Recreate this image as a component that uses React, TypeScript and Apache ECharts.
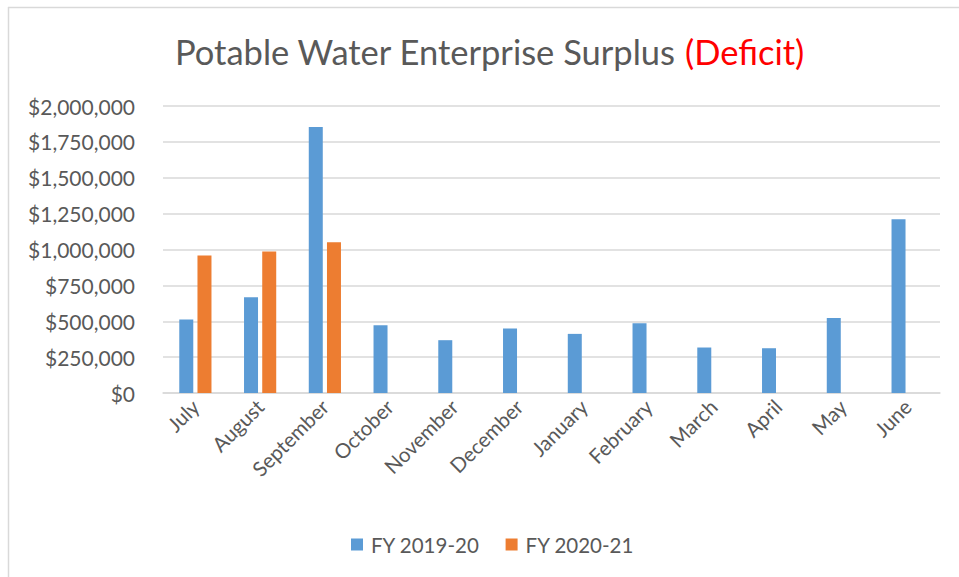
import React, { useEffect, useRef } from "react";
import * as echarts from "echarts";

const months = [
  "July", "August", "September", "October", "November", "December",
  "January", "February", "March", "April", "May", "June",
];
const fy1920 = [512000, 668000, 1853000, 472000, 368000, 449000, 412000, 486000, 317000, 312000, 523000, 1210000];
const fy2021: (number | string)[] = [958000, 986000, 1051000, "-", "-", "-", "-", "-", "-", "-", "-", "-"];
const seriesNames = ["FY 2019-20", "FY 2020-21"];
const yTicks = { min: 0, max: 2000000, interval: 250000 };

const FONT = "Lato, 'Open Sans', sans-serif";
const TEXT = "#595959";

export default function App() {
  const ref = useRef<HTMLDivElement>(null);

  useEffect(() => {
    if (!ref.current) return;
    const chart = echarts.init(ref.current, undefined, { renderer: "svg" });
    chart.setOption({
      animation: false,
      backgroundColor: "#ffffff",
      textStyle: { fontFamily: FONT },
      title: {
        text: "{a|Potable Water Enterprise Surplus }{b|(Deficit)}",
        left: 170,
        top: 29,
        textStyle: {
          fontWeight: "normal",
          rich: {
            a: { fontFamily: FONT, fontSize: 34.5, fontWeight: "normal", color: TEXT },
            b: { fontFamily: FONT, fontSize: 34.5, fontWeight: "normal", color: "#ff0000" },
          },
        },
      },
      legend: {
        top: 529,
        left: 346,
        icon: "rect",
        itemWidth: 12,
        itemHeight: 12,
        itemGap: 26,
        textStyle: { fontFamily: FONT, fontSize: 20.5, color: TEXT, padding: [0, 0, 0, 3] },
        data: seriesNames,
      },
      grid: { left: 163, right: 19, top: 106, bottom: 184 },
      xAxis: {
        type: "category",
        data: months,
        axisLine: { show: true, lineStyle: { color: "#d9d9d9", width: 1.5 } },
        axisTick: { show: false },
        axisLabel: {
          rotate: 45,
          interval: 0,
          margin: 10,
          fontFamily: FONT,
          fontSize: 20.5,
          color: TEXT,
        },
      },
      yAxis: {
        type: "value",
        min: yTicks.min,
        max: yTicks.max,
        interval: yTicks.interval,
        axisLine: { show: false },
        axisTick: { show: false },
        splitLine: { lineStyle: { color: "#d9d9d9", width: 1.5 } },
        axisLabel: {
          margin: 28,
          fontFamily: FONT,
          fontSize: 21,
          color: TEXT,
          formatter: (v: number) => "$" + v.toLocaleString("en-US"),
        },
      },
      series: [
        {
          name: seriesNames[0],
          type: "bar",
          data: fy1920,
          barWidth: 14,
          barGap: "30%",
          itemStyle: { color: "#5b9bd5" },
        },
        {
          name: seriesNames[1],
          type: "bar",
          data: fy2021,
          barWidth: 14,
          itemStyle: { color: "#ed7d31" },
        },
      ],
      graphic: [
        {
          type: "line",
          shape: { x1: 8, y1: 7.5, x2: 959, y2: 7.5 },
          style: { stroke: "#d9d9d9", lineWidth: 1.5 },
        },
        {
          type: "line",
          shape: { x1: 8.5, y1: 7, x2: 8.5, y2: 577 },
          style: { stroke: "#d9d9d9", lineWidth: 1.5 },
        },
      ],
    });
    return () => chart.dispose();
  }, []);

  return (
    <div
      ref={ref}
      style={{ position: "fixed", left: 0, top: 0, width: 959, height: 577 }}
    />
  );
}
